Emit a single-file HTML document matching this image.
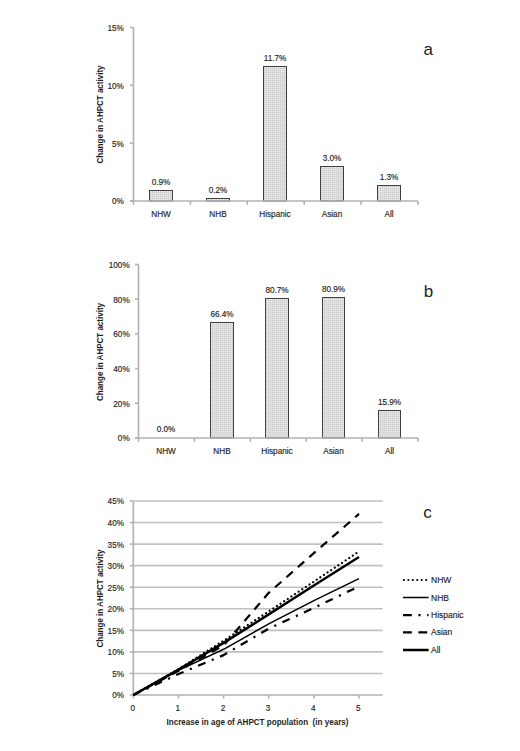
<!DOCTYPE html><html><head><meta charset="utf-8"><style>html,body{margin:0;padding:0;background:#fff;}svg{display:block;} text{font-family:"Liberation Sans",sans-serif;fill:#1e1e1e;stroke:#1e1e1e;stroke-width:0.15px;} text.b{stroke:none;} text.L{stroke:none;}</style></head><body>
<svg width="520" height="751" viewBox="0 0 520 751">
<defs><pattern id="dots" width="2" height="2" patternUnits="userSpaceOnUse"><rect width="2" height="2" fill="#d4d4d4"/><rect x="1" y="1" width="1" height="1" fill="#efefef"/></pattern></defs>
<rect width="520" height="751" fill="#fff"/>
<line x1="133.50" y1="27.50" x2="133.50" y2="204.80" stroke="#b2b2b2" stroke-width="1.6" />
<line x1="130.00" y1="201.00" x2="133.50" y2="201.00" stroke="#b2b2b2" stroke-width="1.6" />
<text x="123.90" y="204.40" text-anchor="end" font-size="8.2" font-weight="normal" >0%</text>
<line x1="130.00" y1="143.17" x2="133.50" y2="143.17" stroke="#b2b2b2" stroke-width="1.6" />
<text x="123.90" y="146.57" text-anchor="end" font-size="8.2" font-weight="normal" >5%</text>
<line x1="130.00" y1="85.33" x2="133.50" y2="85.33" stroke="#b2b2b2" stroke-width="1.6" />
<text x="123.90" y="88.73" text-anchor="end" font-size="8.2" font-weight="normal" >10%</text>
<line x1="130.00" y1="27.50" x2="133.50" y2="27.50" stroke="#b2b2b2" stroke-width="1.6" />
<text x="123.90" y="30.90" text-anchor="end" font-size="8.2" font-weight="normal" >15%</text>
<rect x="149.50" y="190.50" width="23.00" height="10.50" fill="url(#dots)" stroke="#404040" stroke-width="1"/>
<text x="161.00" y="184.70" text-anchor="middle" font-size="8.2" font-weight="normal" >0.9%</text>
<text x="161.00" y="216.60" text-anchor="middle" font-size="8.2" font-weight="normal" >NHW</text>
<rect x="206.50" y="198.50" width="23.00" height="2.50" fill="url(#dots)" stroke="#404040" stroke-width="1"/>
<text x="218.00" y="192.70" text-anchor="middle" font-size="8.2" font-weight="normal" >0.2%</text>
<text x="218.00" y="216.60" text-anchor="middle" font-size="8.2" font-weight="normal" >NHB</text>
<rect x="263.50" y="66.50" width="23.00" height="134.50" fill="url(#dots)" stroke="#404040" stroke-width="1"/>
<text x="275.00" y="60.70" text-anchor="middle" font-size="8.2" font-weight="normal" >11.7%</text>
<text x="275.00" y="216.60" text-anchor="middle" font-size="8.2" font-weight="normal" >Hispanic</text>
<rect x="320.50" y="166.50" width="23.00" height="34.50" fill="url(#dots)" stroke="#404040" stroke-width="1"/>
<text x="332.00" y="160.70" text-anchor="middle" font-size="8.2" font-weight="normal" >3.0%</text>
<text x="332.00" y="216.60" text-anchor="middle" font-size="8.2" font-weight="normal" >Asian</text>
<rect x="377.50" y="185.50" width="23.00" height="15.50" fill="url(#dots)" stroke="#404040" stroke-width="1"/>
<text x="389.00" y="179.70" text-anchor="middle" font-size="8.2" font-weight="normal" >1.3%</text>
<text x="389.00" y="216.60" text-anchor="middle" font-size="8.2" font-weight="normal" >All</text>
<line x1="130.00" y1="201.00" x2="418.00" y2="201.00" stroke="#b2b2b2" stroke-width="1.6" />
<line x1="190.40" y1="201.00" x2="190.40" y2="204.80" stroke="#b2b2b2" stroke-width="1.6" />
<line x1="247.30" y1="201.00" x2="247.30" y2="204.80" stroke="#b2b2b2" stroke-width="1.6" />
<line x1="304.20" y1="201.00" x2="304.20" y2="204.80" stroke="#b2b2b2" stroke-width="1.6" />
<line x1="361.10" y1="201.00" x2="361.10" y2="204.80" stroke="#b2b2b2" stroke-width="1.6" />
<line x1="418.00" y1="201.00" x2="418.00" y2="204.80" stroke="#b2b2b2" stroke-width="1.6" />
<text class="b" x="0" y="0" text-anchor="middle" font-size="8.7" font-weight="bold" textLength="98" lengthAdjust="spacingAndGlyphs" transform="translate(103.2 114.5) rotate(-90)">Change in AHPCT activity</text>
<text x="423.5" y="55" class="L" font-size="17" fill="#1a1a1a">a</text>
<line x1="138.50" y1="264.50" x2="138.50" y2="441.80" stroke="#b2b2b2" stroke-width="1.6" />
<line x1="135.00" y1="438.00" x2="138.50" y2="438.00" stroke="#b2b2b2" stroke-width="1.6" />
<text x="129.70" y="441.40" text-anchor="end" font-size="8.2" font-weight="normal" >0%</text>
<line x1="135.00" y1="403.30" x2="138.50" y2="403.30" stroke="#b2b2b2" stroke-width="1.6" />
<text x="129.70" y="406.70" text-anchor="end" font-size="8.2" font-weight="normal" >20%</text>
<line x1="135.00" y1="368.60" x2="138.50" y2="368.60" stroke="#b2b2b2" stroke-width="1.6" />
<text x="129.70" y="372.00" text-anchor="end" font-size="8.2" font-weight="normal" >40%</text>
<line x1="135.00" y1="333.90" x2="138.50" y2="333.90" stroke="#b2b2b2" stroke-width="1.6" />
<text x="129.70" y="337.30" text-anchor="end" font-size="8.2" font-weight="normal" >60%</text>
<line x1="135.00" y1="299.20" x2="138.50" y2="299.20" stroke="#b2b2b2" stroke-width="1.6" />
<text x="129.70" y="302.60" text-anchor="end" font-size="8.2" font-weight="normal" >80%</text>
<line x1="135.00" y1="264.50" x2="138.50" y2="264.50" stroke="#b2b2b2" stroke-width="1.6" />
<text x="129.70" y="267.90" text-anchor="end" font-size="8.2" font-weight="normal" >100%</text>
<text x="166.00" y="432.20" text-anchor="middle" font-size="8.2" font-weight="normal" >0.0%</text>
<text x="166.00" y="453.60" text-anchor="middle" font-size="8.2" font-weight="normal" >NHW</text>
<rect x="210.50" y="322.50" width="23.00" height="115.50" fill="url(#dots)" stroke="#404040" stroke-width="1"/>
<text x="222.00" y="316.70" text-anchor="middle" font-size="8.2" font-weight="normal" >66.4%</text>
<text x="222.00" y="453.60" text-anchor="middle" font-size="8.2" font-weight="normal" >NHB</text>
<rect x="265.50" y="298.50" width="23.00" height="139.50" fill="url(#dots)" stroke="#404040" stroke-width="1"/>
<text x="277.00" y="292.70" text-anchor="middle" font-size="8.2" font-weight="normal" >80.7%</text>
<text x="277.00" y="453.60" text-anchor="middle" font-size="8.2" font-weight="normal" >Hispanic</text>
<rect x="322.50" y="297.50" width="22.00" height="140.50" fill="url(#dots)" stroke="#404040" stroke-width="1"/>
<text x="333.50" y="291.70" text-anchor="middle" font-size="8.2" font-weight="normal" >80.9%</text>
<text x="333.50" y="453.60" text-anchor="middle" font-size="8.2" font-weight="normal" >Asian</text>
<rect x="378.50" y="410.50" width="22.00" height="27.50" fill="url(#dots)" stroke="#404040" stroke-width="1"/>
<text x="389.50" y="404.70" text-anchor="middle" font-size="8.2" font-weight="normal" >15.9%</text>
<text x="389.50" y="453.60" text-anchor="middle" font-size="8.2" font-weight="normal" >All</text>
<line x1="135.00" y1="438.00" x2="418.00" y2="438.00" stroke="#b2b2b2" stroke-width="1.6" />
<line x1="194.40" y1="438.00" x2="194.40" y2="441.80" stroke="#b2b2b2" stroke-width="1.6" />
<line x1="250.30" y1="438.00" x2="250.30" y2="441.80" stroke="#b2b2b2" stroke-width="1.6" />
<line x1="306.20" y1="438.00" x2="306.20" y2="441.80" stroke="#b2b2b2" stroke-width="1.6" />
<line x1="362.10" y1="438.00" x2="362.10" y2="441.80" stroke="#b2b2b2" stroke-width="1.6" />
<line x1="418.00" y1="438.00" x2="418.00" y2="441.80" stroke="#b2b2b2" stroke-width="1.6" />
<text class="b" x="0" y="0" text-anchor="middle" font-size="8.7" font-weight="bold" textLength="98" lengthAdjust="spacingAndGlyphs" transform="translate(103.2 352.0) rotate(-90)">Change in AHPCT activity</text>
<text x="423.8" y="297" class="L" font-size="17" fill="#1a1a1a">b</text>
<line x1="129.80" y1="695.00" x2="133.30" y2="695.00" stroke="#b2b2b2" stroke-width="1.6" />
<text x="124.00" y="698.40" text-anchor="end" font-size="8.2" font-weight="normal" >0%</text>
<line x1="133.30" y1="673.44" x2="382.70" y2="673.44" stroke="#c0c0c0" stroke-width="1.6" />
<line x1="129.80" y1="673.44" x2="133.30" y2="673.44" stroke="#b2b2b2" stroke-width="1.6" />
<text x="124.00" y="676.84" text-anchor="end" font-size="8.2" font-weight="normal" >5%</text>
<line x1="133.30" y1="651.89" x2="382.70" y2="651.89" stroke="#c0c0c0" stroke-width="1.6" />
<line x1="129.80" y1="651.89" x2="133.30" y2="651.89" stroke="#b2b2b2" stroke-width="1.6" />
<text x="124.00" y="655.29" text-anchor="end" font-size="8.2" font-weight="normal" >10%</text>
<line x1="133.30" y1="630.33" x2="382.70" y2="630.33" stroke="#c0c0c0" stroke-width="1.6" />
<line x1="129.80" y1="630.33" x2="133.30" y2="630.33" stroke="#b2b2b2" stroke-width="1.6" />
<text x="124.00" y="633.73" text-anchor="end" font-size="8.2" font-weight="normal" >15%</text>
<line x1="133.30" y1="608.78" x2="382.70" y2="608.78" stroke="#c0c0c0" stroke-width="1.6" />
<line x1="129.80" y1="608.78" x2="133.30" y2="608.78" stroke="#b2b2b2" stroke-width="1.6" />
<text x="124.00" y="612.18" text-anchor="end" font-size="8.2" font-weight="normal" >20%</text>
<line x1="133.30" y1="587.22" x2="382.70" y2="587.22" stroke="#c0c0c0" stroke-width="1.6" />
<line x1="129.80" y1="587.22" x2="133.30" y2="587.22" stroke="#b2b2b2" stroke-width="1.6" />
<text x="124.00" y="590.62" text-anchor="end" font-size="8.2" font-weight="normal" >25%</text>
<line x1="133.30" y1="565.67" x2="382.70" y2="565.67" stroke="#c0c0c0" stroke-width="1.6" />
<line x1="129.80" y1="565.67" x2="133.30" y2="565.67" stroke="#b2b2b2" stroke-width="1.6" />
<text x="124.00" y="569.07" text-anchor="end" font-size="8.2" font-weight="normal" >30%</text>
<line x1="133.30" y1="544.11" x2="382.70" y2="544.11" stroke="#c0c0c0" stroke-width="1.6" />
<line x1="129.80" y1="544.11" x2="133.30" y2="544.11" stroke="#b2b2b2" stroke-width="1.6" />
<text x="124.00" y="547.51" text-anchor="end" font-size="8.2" font-weight="normal" >35%</text>
<line x1="133.30" y1="522.56" x2="382.70" y2="522.56" stroke="#c0c0c0" stroke-width="1.6" />
<line x1="129.80" y1="522.56" x2="133.30" y2="522.56" stroke="#b2b2b2" stroke-width="1.6" />
<text x="124.00" y="525.96" text-anchor="end" font-size="8.2" font-weight="normal" >40%</text>
<line x1="133.30" y1="501.00" x2="382.70" y2="501.00" stroke="#c0c0c0" stroke-width="1.6" />
<line x1="129.80" y1="501.00" x2="133.30" y2="501.00" stroke="#b2b2b2" stroke-width="1.6" />
<text x="124.00" y="504.40" text-anchor="end" font-size="8.2" font-weight="normal" >45%</text>
<line x1="133.30" y1="501.00" x2="133.30" y2="698.50" stroke="#b2b2b2" stroke-width="1.6" />
<line x1="133.30" y1="695.00" x2="382.70" y2="695.00" stroke="#b2b2b2" stroke-width="1.6" />
<line x1="178.44" y1="695.00" x2="178.44" y2="698.50" stroke="#b2b2b2" stroke-width="1.6" />
<line x1="223.58" y1="695.00" x2="223.58" y2="698.50" stroke="#b2b2b2" stroke-width="1.6" />
<line x1="268.72" y1="695.00" x2="268.72" y2="698.50" stroke="#b2b2b2" stroke-width="1.6" />
<line x1="313.86" y1="695.00" x2="313.86" y2="698.50" stroke="#b2b2b2" stroke-width="1.6" />
<line x1="359.00" y1="695.00" x2="359.00" y2="698.50" stroke="#b2b2b2" stroke-width="1.6" />
<text x="132.70" y="711.00" text-anchor="middle" font-size="8.2" font-weight="normal" >0</text>
<text x="177.84" y="711.00" text-anchor="middle" font-size="8.2" font-weight="normal" >1</text>
<text x="222.98" y="711.00" text-anchor="middle" font-size="8.2" font-weight="normal" >2</text>
<text x="268.12" y="711.00" text-anchor="middle" font-size="8.2" font-weight="normal" >3</text>
<text x="313.26" y="711.00" text-anchor="middle" font-size="8.2" font-weight="normal" >4</text>
<text x="358.40" y="711.00" text-anchor="middle" font-size="8.2" font-weight="normal" >5</text>
<text class="b" x="0" y="0" text-anchor="middle" font-size="8.7" font-weight="bold" textLength="98" lengthAdjust="spacingAndGlyphs" transform="translate(102.8 598.5) rotate(-90)">Change in AHPCT activity</text>
<text class="b" x="257.5" y="725.2" text-anchor="middle" font-size="8.7" font-weight="bold" textLength="182" lengthAdjust="spacingAndGlyphs">Increase in age of AHPCT population&#160; (in years)</text>
<text x="423.3" y="517.7" class="L" font-size="17" fill="#1a1a1a">c</text>
<polyline points="133.30,695.00 178.44,669.13 223.58,640.68 268.72,611.36 313.86,581.62 359.00,551.44" fill="none" stroke="#000" stroke-width="2.2" stroke-dasharray="0.01 4.329" stroke-dashoffset="0.225" stroke-linecap="round" stroke-linejoin="round"/>
<polyline points="133.30,695.00 178.44,670.43 223.58,649.30 268.72,623.87 313.86,600.59 359.00,578.60" fill="none" stroke="#000" stroke-width="1.5" stroke-linejoin="round"/>
<polyline points="133.30,695.00 178.44,674.09 223.58,655.12 268.72,628.61 313.86,607.92 359.00,586.36" fill="none" stroke="#000" stroke-width="2.2" stroke-dasharray="8 6.8 2.17 6.8" stroke-dashoffset="0.255" stroke-linejoin="round"/>
<polyline points="133.30,695.00 178.44,670.86 223.58,645.42 268.72,592.83 313.86,553.16 359.00,513.93" fill="none" stroke="#000" stroke-width="2.2" stroke-dasharray="8.4 6.8" stroke-dashoffset="1.65" stroke-linejoin="round"/>
<polyline points="133.30,695.00 178.44,669.56 223.58,642.84 268.72,614.38 313.86,585.50 359.00,557.04" fill="none" stroke="#000" stroke-width="2.5" stroke-linejoin="round"/>
<line x1="403" y1="580.0" x2="428.6" y2="580.0" stroke="#000" stroke-width="2.2" stroke-dasharray="0.01 4.44" stroke-dashoffset="-0.9" stroke-linecap="round"/>
<text x="431.00" y="583.00" text-anchor="start" font-size="8.5" font-weight="normal" >NHW</text>
<line x1="403" y1="597.5" x2="428.6" y2="597.5" stroke="#000" stroke-width="1.5"/>
<text x="431.00" y="600.50" text-anchor="start" font-size="8.5" font-weight="normal" >NHB</text>
<line x1="403" y1="615.2" x2="428.6" y2="615.2" stroke="#000" stroke-width="2.2" stroke-dasharray="8.8 6.6 2.2 6.6"/>
<text x="431.00" y="618.20" text-anchor="start" font-size="8.5" font-weight="normal" >Hispanic</text>
<line x1="403" y1="632.4" x2="428.6" y2="632.4" stroke="#000" stroke-width="2.2" stroke-dasharray="8.8 6.6"/>
<text x="431.00" y="635.40" text-anchor="start" font-size="8.5" font-weight="normal" >Asian</text>
<line x1="403" y1="650.0" x2="428.6" y2="650.0" stroke="#000" stroke-width="2.5"/>
<text x="431.00" y="653.00" text-anchor="start" font-size="8.5" font-weight="normal" >All</text>
</svg></body></html>
